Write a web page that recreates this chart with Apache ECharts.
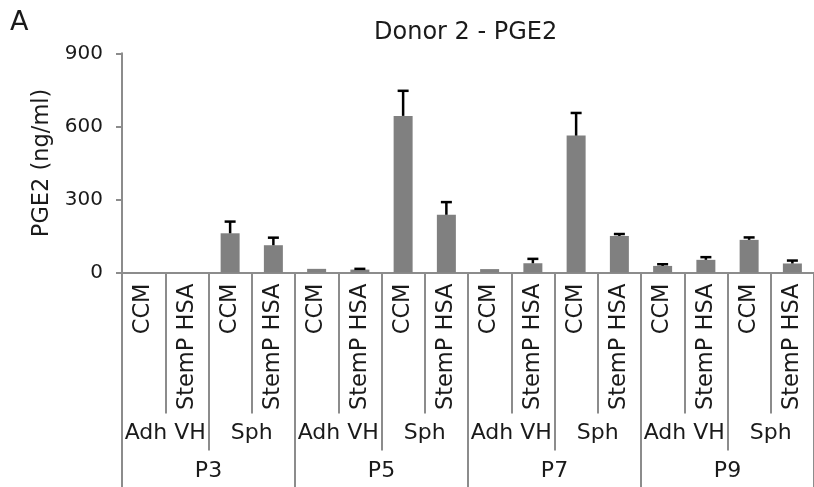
<!DOCTYPE html>
<html>
<head>
<meta charset="utf-8">
<script src="https://cdn.jsdelivr.net/npm/echarts@6/dist/echarts.min.js"></script>
<style>html,body{margin:0;padding:0;background:#fff;}#chart{width:814px;height:487px;}</style>
</head>
<body>
<div id="chart"></div>
<script>
const conditions = ['CCM','StemP HSA','CCM','StemP HSA','CCM','StemP HSA','CCM','StemP HSA','CCM','StemP HSA','CCM','StemP HSA','CCM','StemP HSA','CCM','StemP HSA'];
const cultures = ['Adh VH','Sph','Adh VH','Sph','Adh VH','Sph','Adh VH','Sph'];
const passages = ['P3','P5','P7','P9'];
const pge2Values = [0, 0, 161, 112, 15, 12, 643, 237, 14, 38, 562, 150, 27, 52, 134, 37];
const pge2Errors = [0, 0, 48, 31, 0, 3, 103, 52, 0, 18, 93, 8, 7, 11, 10, 12];
const yTicks = { min: 0, max: 900, interval: 300 };

const FONT = 'DejaVu Sans';
const TXT = '#1a1a1a';
const AX = '#8c8c8c';

const chart = echarts.init(document.getElementById('chart'), null, {renderer: 'canvas'});

const errData = pge2Values.map((v, i) => [i, v, pge2Errors[i]]);

function makeLevelAxis(data, tickLen, margin, showLine) {
  return {
    type: 'category', gridIndex: 0, position: 'bottom', data: data,
    axisLine: {show: showLine, onZero: false, lineStyle: {color: AX, width: 2}},
    axisTick: {show: true, interval: 0, length: tickLen, lineStyle: {color: AX, width: 2}},
    axisLabel: {interval: 0, margin: margin, fontFamily: FONT, fontSize: 22, color: TXT},
    splitLine: {show: false}
  };
}

const ax0 = makeLevelAxis(conditions, 141, 11, true);
ax0.axisLabel.rotate = 90;
ax0.axisLabel.fontSize = 22.5;
const ax1 = makeLevelAxis(cultures, 178, 150, false);
const ax2 = makeLevelAxis(passages, 240, 188, false);

chart.setOption({
  animation: false,
  backgroundColor: '#fff',
  title: [
    {text: 'Donor 2 - PGE2', left: 374, top: 21, padding: 0,
     textStyle: {fontFamily: FONT, fontSize: 24, fontWeight: 'normal', color: TXT}},
    {text: 'A', left: 10, top: 9, padding: 0,
     textStyle: {fontFamily: FONT, fontSize: 27, fontWeight: 'normal', color: TXT}}
  ],
  grid: {left: 122, top: 53.3, width: 701, height: 219.2, containLabel: false},
  xAxis: [ax0, ax1, ax2],
  yAxis: {
    type: 'value', min: yTicks.min, max: yTicks.max, interval: yTicks.interval,
    name: 'PGE2 (ng/ml)', nameLocation: 'middle', nameGap: 63, nameRotate: 90,
    nameTextStyle: {fontFamily: FONT, fontSize: 22.5, color: TXT},
    axisLine: {show: true, lineStyle: {color: AX, width: 2}},
    axisTick: {show: true, length: 6, lineStyle: {color: AX, width: 2}},
    axisLabel: {margin: 19, fontFamily: FONT, fontSize: 20, color: TXT},
    splitLine: {show: false}
  },
  series: [
    {type: 'bar', xAxisIndex: 0, data: pge2Values, barWidth: 19,
     itemStyle: {color: '#808080'}, z: 2},
    {type: 'custom', xAxisIndex: 0, data: errData, z: 3,
     encode: {x: 0, y: 1},
     renderItem: function (params, api) {
       const e = api.value(2);
       if (!e) return null;
       const base = api.coord([api.value(0), api.value(1)]);
       const top = api.coord([api.value(0), api.value(1) + e]);
       const st = {stroke: '#000', lineWidth: 2.5};
       return {type: 'group', children: [
         {type: 'line', shape: {x1: base[0], y1: base[1], x2: base[0], y2: top[1]}, style: st},
         {type: 'line', shape: {x1: base[0] - 5.5, y1: top[1], x2: base[0] + 5.5, y2: top[1]}, style: st}
       ]};
     }}
  ]
});
</script>
</body>
</html>
